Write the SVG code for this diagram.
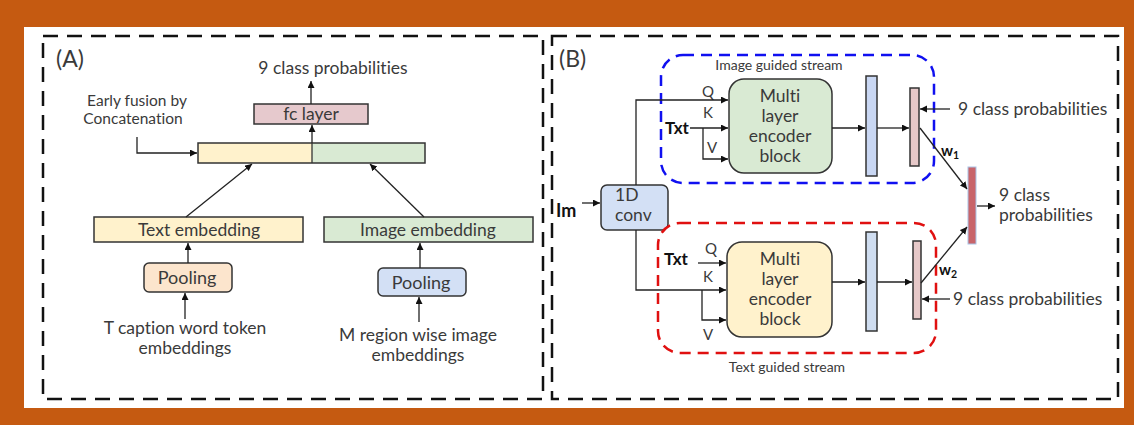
<svg xmlns="http://www.w3.org/2000/svg" width="1134" height="425" viewBox="0 0 1134 425">
<style>
text{font-family:Lato,"Open Sans","Liberation Sans",sans-serif;fill:#3a3a3a;font-variant-ligatures:none;font-feature-settings:"liga" 0,"dlig" 0}
.t16{font-size:17.5px}
.t14{font-size:15.5px}
.q{font-size:15px}
.t17{font-size:17.5px}
.t12{font-size:14px}
.lbl{font-size:23px}
.b{font-weight:bold;fill:#111}
.box{stroke:#333;stroke-width:1.5}
.arr{fill:none;stroke:#222;stroke-width:1.3;marker-end:url(#ah)}
.panel{fill:none;stroke:#111;stroke-width:2.5;stroke-dasharray:15 9}
</style>
<defs>
<marker id="ah" markerUnits="userSpaceOnUse" markerWidth="8" markerHeight="8" refX="7" refY="3.5" orient="auto">
<path d="M0,0 L7,3.5 L0,7 z" fill="#111"/>
</marker>
</defs>
<rect x="0" y="0" width="1134" height="425" fill="#C55A11"/>
<rect x="24" y="27" width="1100" height="381" fill="#ffffff"/>

<g id="panelA">
<rect class="panel" x="43" y="36" width="500" height="363"/>
<text class="lbl" x="56" y="67">(A)</text>
</g>
<g id="panelB">
<rect class="panel" x="552" y="36" width="566" height="363"/>
<text class="lbl" x="559" y="67">(B)</text>
</g>

<g id="A-out"><text class="t16" x="333" y="74" text-anchor="middle">9 class probabilities</text></g>
<g id="A-fc"><rect class="box" x="254" y="104" width="114" height="20" fill="#E6C9CD"/><text class="t16" x="311" y="120" text-anchor="middle">fc layer</text></g>
<g id="A-fusion-label"><text class="t14" x="137" y="106" text-anchor="middle">Early fusion by</text><text class="t14" x="133" y="124" text-anchor="middle">Concatenation</text></g>
<g id="A-concat">
<rect x="198" y="143" width="114" height="20" fill="#FFF2CC"/>
<rect x="312" y="143" width="113" height="20" fill="#D9EAD3"/>
<rect class="box" x="198" y="143" width="227" height="20" fill="none"/>
<line x1="312" y1="143" x2="312" y2="163" stroke="#333" stroke-width="1.3"/>
</g>
<g id="A-textemb"><rect class="box" x="94" y="217" width="209" height="25" fill="#FFF2CC"/><text class="t16" x="199" y="235.5" text-anchor="middle">Text embedding</text></g>
<g id="A-imgemb"><rect class="box" x="324" y="217" width="209" height="25" fill="#D9EAD3"/><text class="t16" x="428" y="235.5" text-anchor="middle">Image embedding</text></g>
<g id="A-pool1"><rect class="box" x="144" y="263" width="88" height="29" rx="5" fill="#FCE5CD"/><text x="187" y="284" font-size="18" text-anchor="middle">Pooling</text></g>
<g id="A-pool2"><rect class="box" x="378" y="268" width="88" height="28" rx="5" fill="#D3E0F5"/><text x="421" y="288.5" font-size="18" text-anchor="middle">Pooling</text></g>
<g id="A-in1"><text class="t16" x="185" y="334" text-anchor="middle">T caption word token</text><text class="t16" x="185" y="354" text-anchor="middle">embeddings</text></g>
<g id="A-in2"><text class="t16" x="418" y="341" text-anchor="middle">M region wise image</text><text class="t16" x="418" y="361" text-anchor="middle">embeddings</text></g>

<g id="B-conv"><text class="b" x="556" y="217" font-size="18">Im</text><rect class="box" x="601" y="185" width="67" height="45" rx="6" fill="#D3E0F5"/><text class="t16" x="615" y="201">1D</text><text class="t16" x="615" y="221">conv</text></g>

<g id="B-imgstream">
<rect x="661" y="55" width="273" height="128" rx="22" fill="none" stroke="#1010F0" stroke-width="2.5" stroke-dasharray="11 7"/>
<text class="t12" x="779" y="70" text-anchor="middle">Image guided stream</text>
</g>
<g id="B-enc1"><rect class="box" x="729" y="79" width="103" height="94" rx="15" fill="#D9EAD3"/>
<text class="t17" x="780" y="102" text-anchor="middle">Multi</text><text class="t17" x="780" y="122" text-anchor="middle">layer</text><text class="t17" x="780" y="142" text-anchor="middle">encoder</text><text class="t17" x="780" y="162" text-anchor="middle">block</text></g>
<g id="B-qkv1"><text class="q" x="708" y="97" text-anchor="middle">Q</text><text class="q" x="708" y="118" text-anchor="middle">K</text><text class="q" x="712" y="153" text-anchor="middle">V</text><text class="b" x="665" y="134" font-size="17">Txt</text></g>
<g id="B-bar1"><rect class="box" x="866" y="76" width="11" height="100" fill="#C9D7F3" stroke-width="1.3"/></g>
<g id="B-pbar1"><rect class="box" x="910" y="88" width="9" height="78" fill="#E6C8C8" stroke-width="1.3"/></g>
<g id="B-out1"><text class="t16" x="958" y="115">9 class probabilities</text></g>
<text class="b" x="941" y="156" font-size="15">w<tspan font-size="10.5" dy="3">1</tspan></text>

<g id="B-txtstream">
<rect x="658" y="223" width="278" height="130" rx="22" fill="none" stroke="#E01010" stroke-width="2.5" stroke-dasharray="11 7"/>
<text class="t12" x="787" y="372" text-anchor="middle">Text guided stream</text>
</g>
<g id="B-enc2"><rect class="box" x="727" y="242" width="105" height="95" rx="15" fill="#FFF2CC"/>
<text class="t17" x="780" y="265" text-anchor="middle">Multi</text><text class="t17" x="780" y="285" text-anchor="middle">layer</text><text class="t17" x="780" y="305" text-anchor="middle">encoder</text><text class="t17" x="780" y="325" text-anchor="middle">block</text></g>
<g id="B-qkv2"><text class="q" x="711" y="254" text-anchor="middle">Q</text><text class="q" x="708" y="282" text-anchor="middle">K</text><text class="q" x="708" y="340" text-anchor="middle">V</text><text class="b" x="664" y="265" font-size="17">Txt</text></g>
<g id="B-bar2"><rect class="box" x="866" y="232" width="11" height="99" fill="#CFDDF0" stroke-width="1.3"/></g>
<g id="B-pbar2"><rect class="box" x="913" y="241" width="8" height="78" fill="#E6C8C8" stroke-width="1.3"/></g>
<g id="B-out2"><text class="t16" x="953" y="305">9 class probabilities</text></g>
<text class="b" x="939" y="275" font-size="15">w<tspan font-size="10.5" dy="3">2</tspan></text>

<g id="B-final"><rect x="968" y="167" width="8" height="77" fill="#C8646A" stroke="#A9C4E6" stroke-width="1"/>
<text class="t16" x="999" y="201">9 class</text><text class="t16" x="999" y="221">probabilities</text></g>

<g id="connectors">
<line class="arr" x1="311" y1="104" x2="311" y2="81"/>
<line class="arr" x1="312" y1="143" x2="312" y2="125"/>
<polyline class="arr" points="137,137 137,153 197,153"/>
<line class="arr" x1="186" y1="217" x2="252" y2="164"/>
<line class="arr" x1="424" y1="217" x2="370" y2="164"/>
<line class="arr" x1="188" y1="263" x2="188" y2="243"/>
<line class="arr" x1="420" y1="268" x2="420" y2="243"/>
<line class="arr" x1="185" y1="319" x2="185" y2="293"/>
<line class="arr" x1="419" y1="322" x2="419" y2="297"/>

<line class="arr" x1="582" y1="203" x2="600" y2="203"/>
<polyline class="arr" points="636,185 636,100 728,100"/>
<line class="arr" x1="690" y1="128" x2="728" y2="128"/>
<polyline class="arr" points="703,128 703,159 728,159"/>
<line class="arr" x1="832" y1="128" x2="865" y2="128"/>
<line class="arr" x1="877" y1="128" x2="909" y2="128"/>
<line class="arr" x1="950" y1="109" x2="920" y2="109"/>
<line class="arr" x1="920" y1="128" x2="967" y2="189"/>

<polyline class="arr" points="636,230 636,290 726,290"/>
<line class="arr" x1="698" y1="263" x2="726" y2="263"/>
<polyline class="arr" points="702,290 702,320 726,320"/>
<line class="arr" x1="832" y1="282" x2="865" y2="282"/>
<line class="arr" x1="877" y1="282" x2="912" y2="282"/>
<line class="arr" x1="950" y1="299" x2="922" y2="299"/>
<line class="arr" x1="921" y1="283" x2="967" y2="227"/>
<line class="arr" x1="977" y1="206" x2="995" y2="206"/>
</g>
</svg>
